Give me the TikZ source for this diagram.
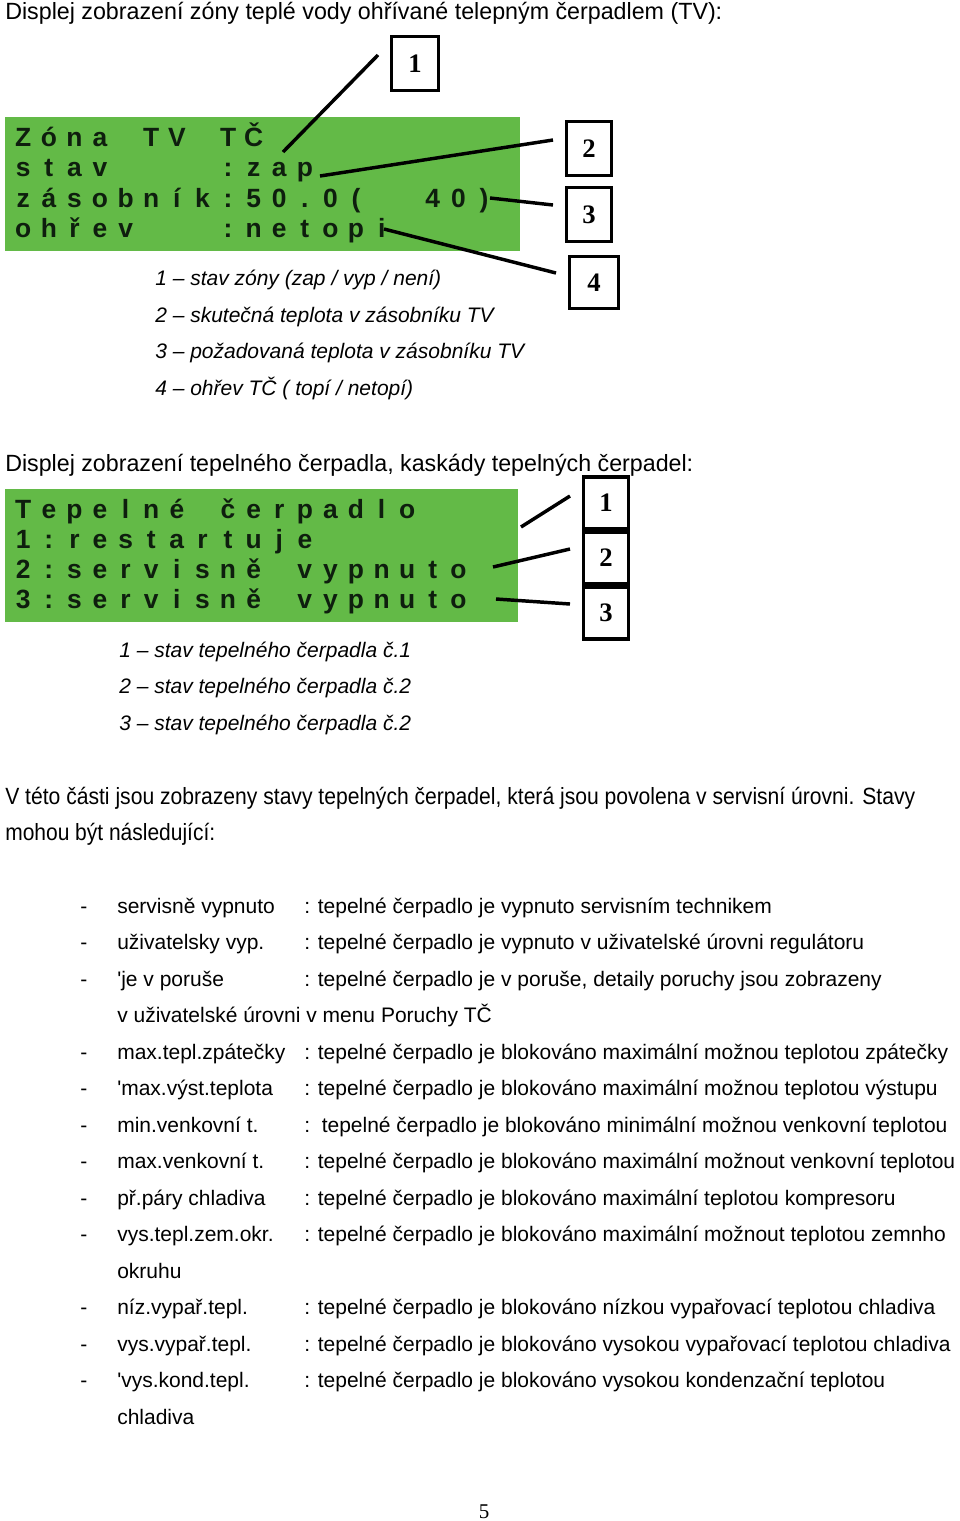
\documentclass[tikz,border=0pt]{standalone}
\usepackage{fontspec}
\usepackage{graphicx}
\setmainfont{Liberation Sans}[Ligatures=TeXOff]
\newfontfamily\serifnum{Liberation Serif}
\usetikzlibrary{calc}
\definecolor{lcdgreen}{RGB}{99,186,71}
\definecolor{lcdtext}{RGB}{14,30,14}
\newlength\lcdpitch \setlength\lcdpitch{19.2pt}
\def\lcdloop#1{\ifx#1\relax\else\makebox[\lcdpitch]{\ifx#1*\else#1\fi}\expandafter\lcdloop\fi}
\newcommand\lcdrow[1]{\lcdloop#1\relax}
\begin{document}
\begin{tikzpicture}[x=0.75pt,y=-0.75pt,
  txt/.style={anchor=base west, inner sep=0pt, font=\fontsize{15.75pt}{18pt}\selectfont},
  itl/.style={anchor=base west, inner sep=0pt, font=\fontsize{15.75pt}{18pt}\selectfont\itshape},
  hdr/.style={anchor=base west, inner sep=0pt, font=\fontsize{17.6pt}{20pt}\selectfont},
  lcd/.style={anchor=base west, inner sep=0pt, text=lcdtext, font=\fontsize{19.8pt}{22pt}\selectfont\bfseries},
  numbox/.style={draw, line width=2.5pt, inner sep=0pt, fill=white,
    font=\serifnum\fontsize{20pt}{22pt}\selectfont\bfseries},
  callout/.style={line width=2.6pt}
]
\useasboundingbox (0,0) rectangle (960,1521);

% headings
\node[hdr] (h1) at (5,19) {\resizebox{537.75pt}{\height}{Displej zobrazení zóny teplé vody ohřívané telepným čerpadlem (TV):}};

% display 1
\fill[lcdgreen] (5,117) rectangle (520,251);
\node[lcd] (d1r1) at (10.2,146) {\lcdrow{Zóna*TV*TČ}};
\node[lcd] (d1r2) at (10.2,176.5) {\lcdrow{stav****:zap}};
\node[lcd] (d1r3) at (10.2,207) {\lcdrow{zásobník:50.0(**40)}};
\node[lcd] (d1r4) at (10.2,237.5) {\lcdrow{ohřev***:netopi}};

\node[numbox, minimum width=35pt, minimum height=40.3pt] (b1) at (415,63.5) {1};
\node[numbox, minimum width=33.5pt, minimum height=40.3pt] (b2) at (589,148.5) {2};
\node[numbox, minimum width=33.5pt, minimum height=40.3pt] (b3) at (589,214.5) {3};
\node[numbox, minimum width=36.5pt, minimum height=38.8pt] (b4) at (594,282.5) {4};

\coordinate (p1) at (283,152); \coordinate (q1) at (378,55);
\coordinate (p2) at (320,176); \coordinate (q2) at (553,140);
\coordinate (p3) at (490,198); \coordinate (q3) at (553,205);
\coordinate (p4) at (384,229); \coordinate (q4) at (556,273);
\draw[callout] (p1) -- (q1);
\draw[callout] (p2) -- (q2);
\draw[callout] (p3) -- (q3);
\draw[callout] (p4) -- (q4);

\node[itl] (l1a) at (155,285) {1 – stav zóny (zap / vyp / není)};
\node[itl] (l1b) at (155,322) {2 – skutečná teplota v zásobníku TV};
\node[itl] (l1c) at (155,358.5) {3 – požadovaná teplota v zásobníku TV};
\node[itl] (l1d) at (155,395) {4 – ohřev TČ ( topí / netopí)};

% display 2
\node[hdr] (h2) at (5,471) {\resizebox{516pt}{\height}{Displej zobrazení tepelného čerpadla, kaskády tepelných čerpadel:}};
\fill[lcdgreen] (5,489) rectangle (518,622);
\node[lcd] (d2r1) at (10.2,518.5) {\lcdrow{Tepelné*čerpadlo}};
\node[lcd] (d2r2) at (10.2,548.5) {\lcdrow{1:restartuje}};
\node[lcd] (d2r3) at (10.2,578.5) {\lcdrow{2:servisně*vypnuto}};
\node[lcd] (d2r4) at (10.2,608.5) {\lcdrow{3:servisně*vypnuto}};

\node[numbox, minimum width=33.5pt, minimum height=38.8pt] (c1) at (606,503) {1};
\node[numbox, minimum width=33.5pt, minimum height=38.8pt] (c2) at (606,558) {2};
\node[numbox, minimum width=33.5pt, minimum height=38.8pt] (c3) at (606,613) {3};

\coordinate (r1) at (521,527); \coordinate (s1) at (570,496);
\coordinate (r2) at (493,567); \coordinate (s2) at (570,549);
\coordinate (r3) at (496,599); \coordinate (s3) at (570,604);
\draw[callout] (r1) -- (s1);
\draw[callout] (r2) -- (s2);
\draw[callout] (r3) -- (s3);

\node[itl] (l2a) at (119,657) {1 – stav tepelného čerpadla č.1};
\node[itl] (l2b) at (119,693.5) {2 – stav tepelného čerpadla č.2};
\node[itl] (l2c) at (119,730) {3 – stav tepelného čerpadla č.2};

% paragraph
\node[hdr] (pa) at (5,804) {\resizebox{682.5pt}{\height}{V této části jsou zobrazeny stavy tepelných čerpadel, která jsou povolena v servisní úrovni. Stavy}};
\node[hdr] (pb) at (5,840) {\resizebox{157.5pt}{\height}{mohou být následující:}};

% list
\foreach \y/\a/\b [count=\i] in {
  913/servisně vypnuto/: tepelné čerpadlo je vypnuto servisním technikem,
  949.5/uživatelsky vyp./: tepelné čerpadlo je vypnuto v uživatelské úrovni regulátoru,
  986/'je v poruše/: tepelné čerpadlo je v poruše{,} detaily poruchy jsou zobrazeny,
  1059/max.tepl.zpátečky/: tepelné čerpadlo je blokováno maximální možnou teplotou zpátečky,
  1095.5/'max.výst.teplota/: tepelné čerpadlo je blokováno maximální možnou teplotou výstupu,
  1132/min.venkovní t./:\ \ tepelné čerpadlo je blokováno minimální možnou venkovní teplotou,
  1168.5/max.venkovní t./: tepelné čerpadlo je blokováno maximální možnout venkovní teplotou,
  1205/př.páry chladiva/: tepelné čerpadlo je blokováno maximální teplotou kompresoru,
  1241.5/vys.tepl.zem.okr./: tepelné čerpadlo je blokováno maximální možnout teplotou zemnho,
  1314.5/níz.vypař.tepl./: tepelné čerpadlo je blokováno nízkou vypařovací teplotou chladiva,
  1351/vys.vypař.tepl./: tepelné čerpadlo je blokováno vysokou vypařovací teplotou chladiva,
  1387.5/'vys.kond.tepl./: tepelné čerpadlo je blokováno vysokou kondenzační teplotou}
{
  \node[txt] (dash\i) at (80,\y) {-};
  \node[txt] (key\i) at (117,\y) {\a};
  \node[txt] (val\i) at (304,\y) {\b};
}
\node[txt] (cont1) at (117,1022.5) {v uživatelské úrovni v menu Poruchy TČ};
\node[txt] (cont2) at (117,1278) {okruhu};
\node[txt] (cont3) at (117,1424) {chladiva};

\node[anchor=base, inner sep=0pt, font=\serifnum\fontsize{15.75pt}{18pt}\selectfont] (pg) at (484,1518) {5};
\end{tikzpicture}
\end{document}
